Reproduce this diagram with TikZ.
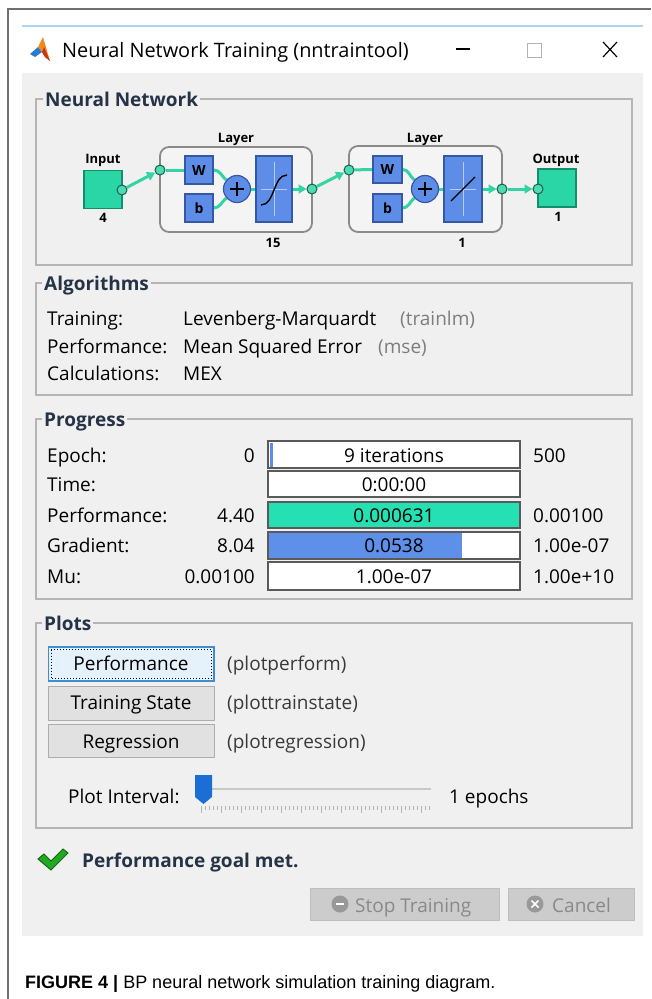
\documentclass[tikz,border=0pt]{standalone}
\usepackage{fontspec}
\setmainfont{Open Sans}
\newfontfamily\capfont{Liberation Sans}
\usetikzlibrary{arrows.meta}
\definecolor{panelbg}{HTML}{F0F0F0}
\definecolor{framegray}{HTML}{707070}
\definecolor{winblue}{HTML}{A6D6F2}
\definecolor{grpline}{HTML}{B5B5B5}
\definecolor{grptitle}{HTML}{263346}
\definecolor{nngreen}{HTML}{2AD6A6}
\definecolor{nngreenD}{HTML}{168E6C}
\definecolor{nnline}{HTML}{33D4A4}
\definecolor{nnportD}{HTML}{1D5E4C}
\definecolor{nnblue}{HTML}{5D8DE6}
\definecolor{nnblueD}{HTML}{3457A6}
\definecolor{layerfill}{HTML}{F4F4F4}
\definecolor{layerline}{HTML}{8A8A8A}
\definecolor{perfgreen}{HTML}{24E0B2}
\definecolor{gradblue}{HTML}{5E8FE9}
\definecolor{barline}{HTML}{5A5A5A}
\definecolor{btnfill}{HTML}{E1E1E1}
\definecolor{btnline}{HTML}{ADADAD}
\definecolor{focfill}{HTML}{E5F1FB}
\definecolor{focline}{HTML}{3C8FD6}
\definecolor{disfill}{HTML}{CCCCCC}
\definecolor{disline}{HTML}{BEBEBE}
\definecolor{distext}{HTML}{898989}
\definecolor{paren}{HTML}{7D7D7D}
\definecolor{plabel}{HTML}{3A3A3A}
\definecolor{checkgreen}{HTML}{22A822}
\definecolor{checkdark}{HTML}{0F6A12}
\definecolor{sliderblue}{HTML}{1A6ED6}
\definecolor{track}{HTML}{C8C8C8}
\definecolor{tick}{HTML}{B5B5B5}
\definecolor{mlorange}{HTML}{F08A1E}
\definecolor{mlred}{HTML}{C8341B}
\definecolor{mlblue}{HTML}{2A7BD0}
\pgfdeclarelayer{base}
\pgfdeclarelayer{back}
\pgfdeclarelayer{mid}
\pgfsetlayers{base,back,mid,main}
\tikzset{
  ui/.style={font=\fontsize{19}{23}\selectfont, inner sep=0pt, anchor=base west},
  uir/.style={font=\fontsize{19}{23}\selectfont, inner sep=0pt, anchor=base east},
  uic/.style={font=\fontsize{19}{23}\selectfont, inner sep=0pt, anchor=base},
  grptitle/.style={font=\fontsize{19}{23}\selectfont\bfseries, text=grptitle, fill=panelbg, inner xsep=2pt, inner ysep=1pt, anchor=base west},
  grpbox/.style={draw=grpline, line width=1.2},
  nnlab/.style={font=\fontsize{13}{15}\selectfont\bfseries, inner sep=0pt, anchor=base},
  greenbox/.style={draw=nngreenD, fill=nngreen, line width=1.2, minimum width=38, minimum height=38, inner sep=0pt},
  bluebox/.style={draw=nnblueD, fill=nnblue, line width=1.2, inner sep=0pt, font=\fontsize{14}{16}\selectfont\bfseries},
  plusc/.style={circle, draw=nnblueD, fill=nnblue, line width=1.2, minimum size=27, inner sep=0pt},
  port/.style={circle, draw=nnportD, fill=nngreen!85!white, line width=1, minimum size=10, inner sep=0pt},
  layerbox/.style={draw=layerline, fill=layerfill, line width=1.8, rounded corners=9, inner sep=0pt},
  conn/.style={draw=nnline, line width=3},
  arr/.style={-{Triangle[length=8pt,width=9pt]}},
  bar/.style={draw=barline, line width=1.3},
  btn/.style={draw=btnline, fill=btnfill, line width=1},
}
\begin{document}
\begin{tikzpicture}[x=1pt,y=-1pt]
\useasboundingbox (0,0) rectangle (651,999);
\begin{pgfonlayer}{base}
\fill[white] (0,0) rectangle (651,999);
\fill[panelbg] (22,73) rectangle (643,936);
\end{pgfonlayer}
% outer frame
\draw[framegray, line width=1.4] (8,999) -- (8,9) -- (651,9);
\draw[winblue, line width=1.2] (22,26) -- (643,26);
% title bar
\fill[mlblue] (30,54) -- (38,47) -- (42,52) -- (35,57) -- cycle;
\fill[mlorange] (38,47) -- (43,37) -- (50,61) -- (45,57) -- (42,52) -- cycle;
\fill[mlred] (42,52) -- (45,57) -- (50,61) -- (44,47) -- cycle;
\node[font=\fontsize{19.9}{23}\selectfont, inner sep=0pt, anchor=base west] (title) at (62,57) {Neural Network Training (nntraintool)};
\draw[black, line width=1.2] (456,49) -- (470,49);
\draw[black!30, line width=1] (527,43) rectangle (541,57);
\draw[black, line width=1.2] (603,42) -- (617,57) (617,42) -- (603,57);

% ---------------- Neural Network group
\draw[grpbox] (36,99) rectangle (632,265);
\node[grptitle] (gnn) at (43,106) {Neural Network};

\begin{pgfonlayer}{back}
\node[layerbox, minimum width=152, minimum height=85] (L1) at (236,189.5) {};
\node[layerbox, minimum width=153, minimum height=86] (L2) at (425.5,189) {};
\end{pgfonlayer}
\node[nnlab] (L1lab) at (236,142) {Layer};
\node[nnlab] (L1n) at (273,247) {15};
\node[nnlab] (L2lab) at (425,142) {Layer};
\node[nnlab] (L2n) at (462,247) {1};

\node[greenbox] (in) at (103,189.5) {};
\node[nnlab] (inlab) at (103,163) {Input};
\node[nnlab] (inn) at (103,222) {4};
\node[greenbox] (out) at (557,188) {};
\node[nnlab] (outlab) at (556,163) {Output};
\node[nnlab] (outn) at (558,221) {1};

\node[bluebox, minimum width=28, minimum height=28] (W1) at (199,170) {W};
\node[bluebox, minimum width=28, minimum height=28] (b1) at (199,208) {b};
\node[plusc] (p1) at (237,189) {};
\node[bluebox, minimum width=36, minimum height=66] (T1) at (274,189) {};
\node[bluebox, minimum width=29, minimum height=27] (W2) at (387.5,169.5) {W};
\node[bluebox, minimum width=29, minimum height=28] (b2) at (387.5,208) {b};
\node[plusc] (p2) at (425,189) {};
\node[bluebox, minimum width=38, minimum height=66] (T2) at (463,189) {};

\node[port] (inP) at (122,190) {};
\node[port] (L1in) at (160,170) {};
\node[port] (L1out) at (312,189) {};
\node[port] (L2in) at (349,170) {};
\node[port] (L2out) at (502,189) {};
\node[port] (outP) at (538,189) {};

% plus signs
\draw[black, line width=1.4] (230,189) -- (244,189) (237,182) -- (237,196);
\draw[black, line width=1.4] (418,189) -- (432,189) (425,182) -- (425,196);
% transfer icons
\draw[white!55!nnblue, line width=0.8] (274,162) -- (274,216) (261,189) -- (287,189);
\draw[black, line width=1.4] (261,205) .. controls (275,205) and (273,175) .. (287,175);
\draw[white!55!nnblue, line width=0.8] (463,162) -- (463,216) (450,189) -- (476,189);
\draw[black, line width=1.4] (451,201) -- (475,177);

\begin{pgfonlayer}{mid}
\draw[conn, arr] (inP) -- (L1in);
\draw[conn] (L1in) -- (W1.west);
\draw[conn] (W1.east) to[out=0, in=140] (p1);
\draw[conn] (b1.east) to[out=0, in=-140] (p1);
\draw[conn] (p1) -- (T1.west);
\draw[conn, arr] (T1.east) -- (L1out);
\draw[conn, arr] (L1out) -- (L2in);
\draw[conn] (L2in) -- (W2.west);
\draw[conn] (W2.east) to[out=0, in=140] (p2);
\draw[conn] (b2.east) to[out=0, in=-140] (p2);
\draw[conn] (p2) -- (T2.west);
\draw[conn, arr] (T2.east) -- (L2out);
\draw[conn, arr] (L2out) -- (outP);
\end{pgfonlayer}

% ---------------- Algorithms group
\draw[grpbox] (36,283) rectangle (632,395);
\node[grptitle] (galg) at (42,290) {Algorithms};
\node[ui] (a1) at (47,325) {Training:};
\node[ui] (a1v) at (183,325) {Levenberg-Marquardt};
\node[ui, text=paren] (a1p) at (400,325) {(trainlm)};
\node[ui] (a2) at (47,353) {Performance:};
\node[ui] (a2v) at (183,353) {Mean Squared Error};
\node[ui, text=paren] (a2p) at (378,353) {(mse)};
\node[ui] (a3) at (47,380) {Calculations:};
\node[ui] (a3v) at (183,380) {MEX};

% ---------------- Progress group
\draw[grpbox] (36,419) rectangle (632,599);
\node[grptitle] (gpro) at (42,426) {Progress};
\node[ui] (r1) at (47,462) {Epoch:};
\node[ui] (r2) at (47,491) {Time:};
\node[ui] (r3) at (47,522) {Performance:};
\node[ui] (r4) at (47,552) {Gradient:};
\node[ui] (r5) at (47,583) {Mu:};
\node[uir] (l1) at (255,462) {0};
\node[uir] (l3) at (255,522) {4.40};
\node[uir] (l4) at (255,552) {8.04};
\node[uir] (l5) at (255,583) {0.00100};
\node[ui] (e1) at (533,462) {500};
\node[ui] (e3) at (533,522) {0.00100};
\node[ui] (e4) at (533,552) {1.00e-07};
\node[ui] (e5) at (533,583) {1.00e+10};
\fill[white] (268,441) rectangle (520,468);
\fill[nnblue] (269.5,442.5) rectangle (273,466.5);
\draw[bar] (268,441) rectangle (520,468);
\fill[white] (268,471) rectangle (520,497);
\draw[bar] (268,471) rectangle (520,497);
\fill[perfgreen] (268,502) rectangle (520,528);
\draw[bar] (268,502) rectangle (520,528);
\fill[white] (268,532) rectangle (520,559);
\fill[gradblue] (269,533) rectangle (462,558);
\draw[bar] (268,532) rectangle (520,559);
\fill[white] (268,562) rectangle (520,590);
\draw[bar] (268,562) rectangle (520,590);
\node[uic] (b1t) at (394,462) {9 iterations};
\node[uic] (b2t) at (394,491) {0:00:00};
\node[uic] (b3t) at (394,522) {0.000631};
\node[uic] (b4t) at (394,552) {0.0538};
\node[uic] (b5t) at (394,583) {1.00e-07};

% ---------------- Plots group
\draw[grpbox] (36,623) rectangle (632,828);
\node[grptitle] (gplt) at (42,630) {Plots};
\draw[draw=focline, fill=focfill, line width=1.2] (48.5,647) rectangle (214,681);
\draw[black, line width=1, dotted] (51,649.5) rectangle (211.5,678.5);
\draw[btn] (48.5,686) rectangle (214,720);
\draw[btn] (48.5,724) rectangle (214,757);
\node[uic] (pb1) at (131,670) {Performance};
\node[uic] (pb2) at (131,709) {Training State};
\node[uic] (pb3) at (131,748) {Regression};
\node[ui, text=plabel] (pl1) at (227,670) {(plotperform)};
\node[ui, text=plabel] (pl2) at (227,709) {(plottrainstate)};
\node[ui, text=plabel] (pl3) at (227,748) {(plotregression)};
\node[ui] (pint) at (68,803) {Plot Interval:};
\draw[track, line width=2] (212,789) -- (431,789);
\foreach \i in {0,...,57} {
  \draw[tick, line width=0.7] ({201+4*\i},806) -- ({201+4*\i},{ifthenelse(mod(\i,5)==0,813,810)});
}
\fill[sliderblue] (195,775) -- (212,775) -- (212,797) -- (203.5,804) -- (195,797) -- cycle;
\node[ui] (pep) at (449,803) {1 epochs};

% ---------------- status
\filldraw[fill=checkgreen, draw=checkdark, line width=1] (38,859) -- (44,854) -- (51,861) -- (63,849) -- (68,853) -- (51,870) -- cycle;
\node[ui, font=\fontsize{19}{23}\selectfont\bfseries, text=grptitle] (goal) at (82,867) {Performance goal met.};
\fill[disfill] (310,888) rectangle (499,920);
\draw[disline, line width=1] (310,888) rectangle (499,920);
\fill[disfill] (508,888) rectangle (634,920);
\draw[disline, line width=1] (508,888) rectangle (634,920);
\fill[black!40] (340,904) circle (8.5);
\draw[white, line width=1.2] (336,904) -- (344,904);
\fill[black!40] (535,904) circle (8.5);
\draw[white, line width=1.5] (531.5,900.5) -- (538.5,907.5) (538.5,900.5) -- (531.5,907.5);
\node[ui, text=distext] (stop) at (355,912) {Stop Training};
\node[ui, text=distext] (cancel) at (552,912) {Cancel};

% ---------------- caption
\node[inner sep=0pt, anchor=base west, font=\capfont\fontsize{18}{21}\selectfont] (cap) at (25,988) {\textbf{FIGURE 4 |} BP neural network simulation training diagram.};
\end{tikzpicture}
\end{document}
